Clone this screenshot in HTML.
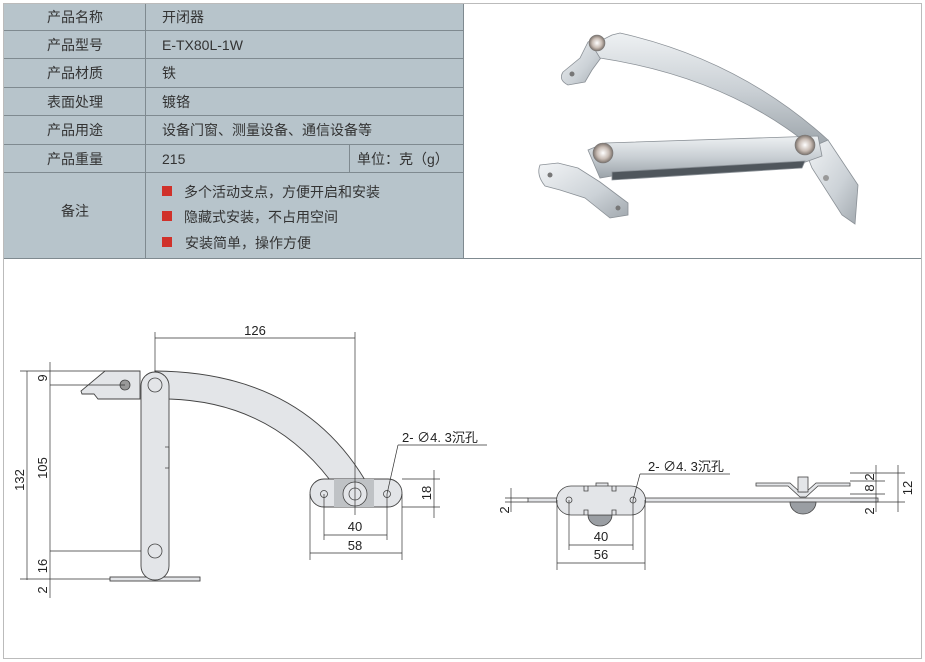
<!DOCTYPE html>
<html><head><meta charset="utf-8"><style>
html,body{margin:0;padding:0;background:#fff;}
svg{display:block;font-family:"Liberation Sans","Noto Sans CJK SC",sans-serif;}
</style></head><body>
<svg width="925" height="662" viewBox="0 0 925 662" xmlns="http://www.w3.org/2000/svg">
<defs>
<linearGradient id="mg" x1="0" y1="0" x2="0" y2="1"><stop offset="0" stop-color="#eef1f3"/><stop offset="0.5" stop-color="#c9cfd4"/><stop offset="1" stop-color="#9aa2a8"/></linearGradient>
<linearGradient id="mg2" x1="0" y1="0" x2="1" y2="1"><stop offset="0" stop-color="#f2f4f6"/><stop offset="0.6" stop-color="#ccd2d7"/><stop offset="1" stop-color="#a2a9af"/></linearGradient>
<radialGradient id="sc"><stop offset="0" stop-color="#fff"/><stop offset="0.6" stop-color="#c8bcb4"/><stop offset="1" stop-color="#7a716b"/></radialGradient>
</defs>
<rect x="3.5" y="3.5" width="918" height="655" fill="#fff" stroke="#bbb"/>
<rect x="4" y="4" width="459" height="254" fill="#b7c4cb"/>
<g stroke="#7f8a90" stroke-width="1" fill="none">
<line x1="4" y1="30.5" x2="463" y2="30.5"/><line x1="4" y1="58.5" x2="463" y2="58.5"/>
<line x1="4" y1="87.5" x2="463" y2="87.5"/><line x1="4" y1="115.5" x2="463" y2="115.5"/>
<line x1="4" y1="144.5" x2="463" y2="144.5"/><line x1="4" y1="172.5" x2="463" y2="172.5"/>
<line x1="145.5" y1="4" x2="145.5" y2="258"/><line x1="349.5" y1="144" x2="349.5" y2="172"/>
<line x1="463.5" y1="4" x2="463.5" y2="258"/>
<line x1="4" y1="258.5" x2="921" y2="258.5"/>
</g>
<g font-size="14" fill="#333">
<text x="75" y="22" text-anchor="middle">产品名称</text>
<text x="75" y="50" text-anchor="middle">产品型号</text>
<text x="75" y="78" text-anchor="middle">产品材质</text>
<text x="75" y="107" text-anchor="middle">表面处理</text>
<text x="75" y="135" text-anchor="middle">产品用途</text>
<text x="75" y="164" text-anchor="middle">产品重量</text>
<text x="75" y="216" text-anchor="middle">备注</text>
<text x="162" y="22">开闭器</text>
<text x="162" y="50">E-TX80L-1W</text>
<text x="162" y="78">铁</text>
<text x="162" y="107">镀铬</text>
<text x="162" y="135">设备门窗、测量设备、通信设备等</text>
<text x="162" y="164">215</text>
<text x="357" y="164">单位：克（g）</text>
<text x="184" y="197">多个活动支点，方便开启和安装</text>
<text x="184" y="222">隐藏式安装，不占用空间</text>
<text x="185" y="248">安装简单，操作方便</text>
</g>
<g fill="#d0312a"><rect x="162" y="186" width="10" height="10"/><rect x="162" y="211" width="10" height="10"/><rect x="162" y="237" width="10" height="10"/></g>

<!-- product photo -->
<g stroke="#8a9096" stroke-width="0.8">
<path d="M563,72 L580,58 L588,42 L600,36 L603,55 L592,70 L585,82 L568,85 Q558,80 563,72Z" fill="url(#mg2)"/>
<path d="M612,35 L620,33 Q740,60 828,140 L815,150 Q730,78 600,58 L592,45 Z" fill="url(#mg)"/>
<path d="M805,150 L828,140 L858,185 L855,224 L842,215 L812,168 Z" fill="url(#mg2)"/>
<path d="M540,165 L558,163 L578,168 L600,182 L628,203 L628,215 L610,218 L585,198 L560,190 L545,186 Q536,175 540,165 Z" fill="url(#mg2)"/>
<path d="M588,150 L605,143 L818,136 L822,156 L800,164 L612,176 L600,178 Z" fill="url(#mg)"/>
<path d="M612,172 L805,161 L802,168 L612,180 Z" fill="#4f565c"/>
</g>
<circle cx="597" cy="43" r="8" fill="url(#sc)" stroke="#777" stroke-width="0.6"/>
<circle cx="603" cy="153" r="10" fill="url(#sc)" stroke="#777" stroke-width="0.6"/>
<circle cx="805" cy="145" r="10" fill="url(#sc)" stroke="#777" stroke-width="0.6"/>
<circle cx="826" cy="178" r="3" fill="#999"/><circle cx="572" cy="74" r="2.5" fill="#777"/>
<circle cx="550" cy="175" r="2.5" fill="#777"/><circle cx="618" cy="208" r="2.5" fill="#777"/>

<!-- left drawing -->
<g stroke="#444" stroke-width="0.9" fill="#e3e5e8">
<path d="M105,371 L140,371 L140,399 L98,399 L94,394 L82,394 L81,391 Z"/>
<path d="M155,371 Q300,372 365,480 L330,480 Q270,402 169,399 Z"/>
<rect x="110" y="577" width="90" height="4"/>
<rect x="141" y="372" width="28" height="208" rx="14"/>
<rect x="310" y="479" width="92" height="28" rx="14"/>
</g>
<g stroke="#444" stroke-width="0.8" fill="none">
<circle cx="155" cy="385" r="7"/><circle cx="155" cy="551" r="7"/>
<circle cx="125" cy="385" r="5" fill="#999"/>
<rect x="334" y="479" width="40" height="28" fill="#bfc2c5" stroke="none"/>
<circle cx="355" cy="494" r="12" fill="#e3e5e8"/><circle cx="355" cy="494" r="6"/>
<circle cx="324" cy="494" r="3.5"/><circle cx="387" cy="494" r="3.5"/>
<path d="M165,447 L169,447 L169,468 L165,468"/>
</g>
<g stroke="#333" stroke-width="0.7" fill="none">
<line x1="155" y1="332" x2="155" y2="372"/><line x1="355" y1="332" x2="355" y2="515"/>
<line x1="155" y1="338" x2="355" y2="338"/>
<line x1="20" y1="371" x2="105" y2="371"/><line x1="50" y1="385" x2="125" y2="385"/>
<line x1="50" y1="551" x2="141" y2="551"/><line x1="20" y1="579" x2="110" y2="579"/>
<line x1="27" y1="371" x2="27" y2="580"/>
<line x1="50" y1="362" x2="50" y2="598"/>
<line x1="324" y1="494" x2="324" y2="540"/><line x1="387" y1="494" x2="387" y2="540"/>
<line x1="310" y1="494" x2="310" y2="560"/><line x1="402" y1="494" x2="402" y2="560"/>
<line x1="324" y1="535" x2="387" y2="535"/><line x1="310" y1="553" x2="402" y2="553"/>
<line x1="402" y1="479" x2="440" y2="479"/><line x1="402" y1="507" x2="440" y2="507"/>
<line x1="434" y1="470" x2="434" y2="518"/>
<line x1="398" y1="445" x2="487" y2="445"/><line x1="398" y1="445" x2="387" y2="494"/>
</g>
<g font-size="13" fill="#222">
<text x="255" y="335" text-anchor="middle">126</text>
<text x="355" y="531" text-anchor="middle">40</text>
<text x="355" y="550" text-anchor="middle">58</text>
<text x="402" y="442" font-size="13">2- ∅4. 3沉孔</text>
<text transform="translate(24,480) rotate(-90)" text-anchor="middle">132</text>
<text transform="translate(47,468) rotate(-90)" text-anchor="middle">105</text>
<text transform="translate(47,378) rotate(-90)" text-anchor="middle">9</text>
<text transform="translate(47,566) rotate(-90)" text-anchor="middle">16</text>
<text transform="translate(47,590) rotate(-90)" text-anchor="middle">2</text>
<text transform="translate(431,493) rotate(-90)" text-anchor="middle">18</text>
</g>

<!-- right drawing -->
<g stroke="#444" stroke-width="0.8" fill="#e3e5e8">
<rect x="528" y="498" width="350" height="4"/>
<rect x="596" y="483" width="12" height="5"/>
<path d="M588,515 A12,11 0 0 0 612,515 Z" fill="#9a9ea3"/>
<path d="M571,486 L631,486 A14,14 0 0 1 631,515 L571,515 A14,14 0 0 1 571,486 Z"/>
<path d="M756,483 L790,483 L800,492 L806,492 L816,483 L850,483 L850,486 L818,486 L806,497 L800,497 L788,486 L756,486 Z"/>
<rect x="798" y="477" width="10" height="15"/>
<path d="M790,502 A13,12 0 0 0 816,502 Z" fill="#9a9ea3"/>
</g>
<g stroke="#444" stroke-width="0.8" fill="none">
<circle cx="569" cy="500" r="3"/><circle cx="633" cy="500" r="3"/>
<path d="M584,486 v5 h4 v-5 M612,486 v5 h4 v-5 M584,515 v-5 h4 v5 M612,515 v-5 h4 v5"/>
</g>
<g stroke="#333" stroke-width="0.7" fill="none">
<line x1="569" y1="500" x2="569" y2="550"/><line x1="633" y1="500" x2="633" y2="550"/>
<line x1="557" y1="500" x2="557" y2="570"/><line x1="645" y1="500" x2="645" y2="570"/>
<line x1="569" y1="545" x2="633" y2="545"/><line x1="557" y1="563" x2="645" y2="563"/>
<line x1="640" y1="474" x2="730" y2="474"/><line x1="640" y1="474" x2="633" y2="500"/>
<line x1="505" y1="498" x2="528" y2="498"/><line x1="505" y1="502" x2="528" y2="502"/>
<line x1="511" y1="488" x2="511" y2="512"/>
<line x1="850" y1="473" x2="905" y2="473"/><line x1="850" y1="481" x2="885" y2="481"/>
<line x1="850" y1="494" x2="885" y2="494"/><line x1="850" y1="502" x2="905" y2="502"/>
<line x1="876" y1="465" x2="876" y2="512"/><line x1="898" y1="465" x2="898" y2="512"/>
</g>
<g font-size="13" fill="#222">
<text x="601" y="541" text-anchor="middle">40</text>
<text x="601" y="559" text-anchor="middle">56</text>
<text x="648" y="471">2- ∅4. 3沉孔</text>
<text transform="translate(509,510) rotate(-90)" text-anchor="middle">2</text>
<text transform="translate(874,477) rotate(-90)" text-anchor="middle">2</text>
<text transform="translate(874,488) rotate(-90)" text-anchor="middle">8</text>
<text transform="translate(874,511) rotate(-90)" text-anchor="middle">2</text>
<text transform="translate(912,488) rotate(-90)" text-anchor="middle">12</text>
</g>
</svg>
</body></html>
